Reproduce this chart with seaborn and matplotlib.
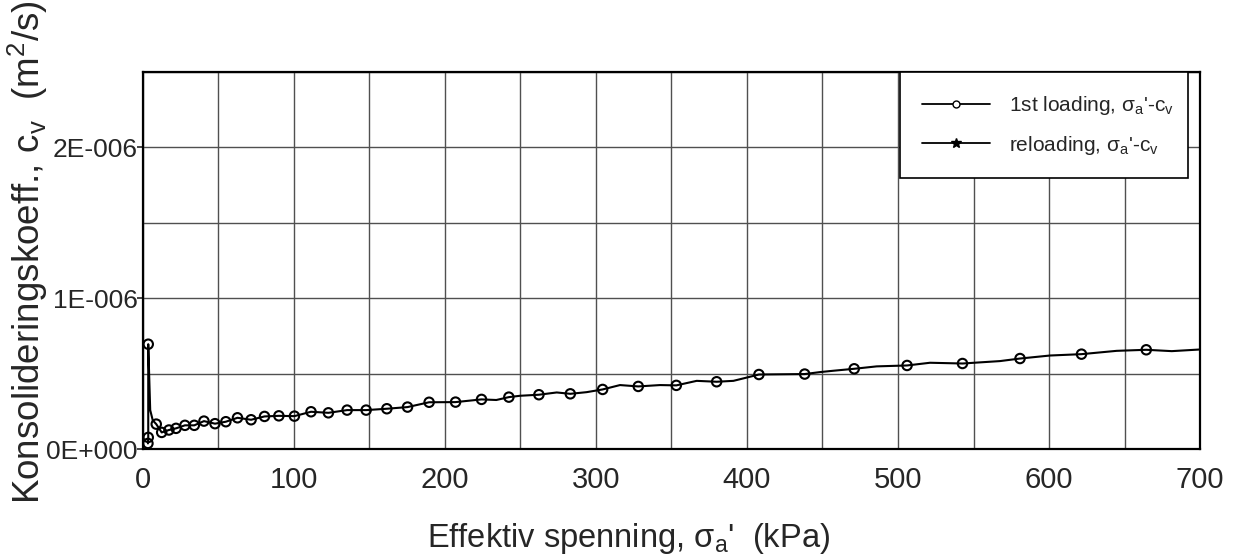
import matplotlib
matplotlib.use("Agg")
import matplotlib.pyplot as plt
from matplotlib.lines import Line2D
from matplotlib.patches import Rectangle
from matplotlib.ticker import MultipleLocator, FuncFormatter
import numpy as np
import pandas as pd
import seaborn as sns

# Measured points shown with circle markers (stress in kPa, cv in 1E-6 m2/s)
marker_stress = [3.3, 3.5, 3.5, 8.8, 12.4, 17.2, 21.9, 27.8, 34.0, 40.4, 47.7,
                 54.9, 62.6, 71.6, 80.5, 90.0, 100.3, 111.3, 122.8, 135.2,
                 147.8, 161.5, 175.2, 189.5, 207.0, 224.2, 242.3, 262.2,
                 283.0, 304.4, 328.0, 353.2, 379.9, 407.9, 438.2, 471.0,
                 506.0, 542.7, 580.8, 621.5, 664.4]
marker_cv = [0.037, 0.077, 0.695, 0.165, 0.110, 0.126, 0.137, 0.157, 0.157,
             0.185, 0.168, 0.181, 0.207, 0.194, 0.216, 0.220, 0.218, 0.247,
             0.240, 0.258, 0.258, 0.267, 0.278, 0.310, 0.311, 0.329, 0.344,
             0.360, 0.366, 0.395, 0.415, 0.422, 0.446, 0.494, 0.497, 0.532,
             0.554, 0.567, 0.600, 0.629, 0.658]

# Full logged curve (all readings, in test order)
curve_stress = [3.3, 3.5, 3.5, 4.8, 6.5, 8.8, 12.4, 17.2, 21.9, 27.8, 34.0,
                40.4, 47.7, 54.9, 62.6, 71.6, 80.5, 90.0, 100.3, 111.3, 122.8,
                135.2, 147.8, 161.5, 175.2, 189.5, 207.0, 224.2, 234.0, 242.3,
                249.7, 262.2, 274.0, 283.0, 293.8, 304.4, 315.9, 328.0, 342.4,
                353.2, 366.7, 379.9, 391.0, 397.5, 407.9, 438.2, 448.3, 457.2,
                471.0, 485.9, 506.0, 521.2, 542.7, 567.5, 580.8, 600.7, 621.5,
                644.8, 664.4, 681.3, 700.0]
curve_cv = [0.037, 0.077, 0.695, 0.258, 0.190, 0.165, 0.110, 0.126, 0.137,
            0.157, 0.157, 0.185, 0.168, 0.181, 0.207, 0.194, 0.216, 0.220,
            0.218, 0.247, 0.240, 0.258, 0.258, 0.267, 0.278, 0.310, 0.311,
            0.329, 0.325, 0.344, 0.353, 0.360, 0.375, 0.366, 0.377, 0.395,
            0.424, 0.415, 0.424, 0.422, 0.452, 0.446, 0.452, 0.468, 0.494,
            0.497, 0.510, 0.519, 0.532, 0.548, 0.554, 0.572, 0.567, 0.583,
            0.600, 0.620, 0.629, 0.651, 0.658, 0.649, 0.660]

legend_labels = ["1st loading, σ$_\\mathregular{a}$'-c$_\\mathregular{v}$",
                 "reloading, σ$_\\mathregular{a}$'-c$_\\mathregular{v}$"]

UNIT = 1e-6
curve = pd.DataFrame({"stress": curve_stress,
                      "cv": np.array(curve_cv) * UNIT})
marks = pd.DataFrame({"stress": marker_stress,
                      "cv": np.array(marker_cv) * UNIT})

sns.set_style("white")
plt.rcParams["font.family"] = ["Liberation Sans", "DejaVu Sans"]

fig = plt.figure(figsize=(12.42, 5.6), dpi=100)
ax = fig.add_axes([0.1151, 0.1982, 0.8511, 0.6732])

sns.lineplot(data=curve, x="stress", y="cv", sort=False, estimator=None,
             color="black", linewidth=1.5, ax=ax, zorder=3)
sns.scatterplot(data=marks, x="stress", y="cv", marker="o", s=46,
                facecolor="none", edgecolor="black", linewidth=1.5,
                ax=ax, zorder=4)

ax.set_xlim(0, 700)
ax.set_ylim(0, 2.5e-6)
ax.xaxis.set_major_locator(MultipleLocator(100))
ax.xaxis.set_minor_locator(MultipleLocator(50))
ax.yaxis.set_major_locator(MultipleLocator(1e-6))
ax.yaxis.set_minor_locator(MultipleLocator(0.5e-6))


def sci_label(v, pos):
    mant, exp = f"{v:.0E}".split("E")
    return f"{mant}E{int(exp):+04d}"


ax.yaxis.set_major_formatter(FuncFormatter(sci_label))
ax.grid(True, which="both", color="#505050", linewidth=1.0)
ax.set_axisbelow(True)

ax.tick_params(axis="x", which="both", length=0, pad=12, labelsize=21)
ax.tick_params(axis="y", which="major", length=4, width=1.2, direction="out",
               pad=0, labelsize=19, left=True)
ax.tick_params(axis="y", which="minor", length=0)

for sp in ax.spines.values():
    sp.set_color("black")
    sp.set_linewidth(1.6)

ax.set_xlabel("Effektiv spenning, σ$_\\mathregular{a}$'  (kPa)", fontsize=23.5)
ax.xaxis.set_label_coords(0.459, -0.19)
ax.set_ylabel("Konsolideringskoeff., c$_\\mathregular{v}$  (m$^\\mathregular{2}$/s)",
              fontsize=26.5)
ax.yaxis.set_label_coords(-0.088, 0.522)

# Legend box
ax.add_patch(Rectangle((0.716, 0.719), 0.273, 0.281, transform=ax.transAxes,
                       facecolor="white", edgecolor="black", linewidth=1.2,
                       zorder=5))
handles = [
    Line2D([], [], color="black", linewidth=1.3, marker="o", markersize=5,
           markerfacecolor="white", markeredgecolor="black"),
    Line2D([], [], color="black", linewidth=1.3, marker="*", markersize=7,
           markerfacecolor="black", markeredgecolor="black"),
]
leg = ax.legend(handles, legend_labels, loc="upper left",
                bbox_to_anchor=(0.716, 1.0), frameon=False, fontsize=15,
                handlelength=3.3, handletextpad=0.9, borderpad=1.05,
                labelspacing=0.8, borderaxespad=0)
leg.set_zorder(6)

fig.savefig("out.png", dpi=100)
